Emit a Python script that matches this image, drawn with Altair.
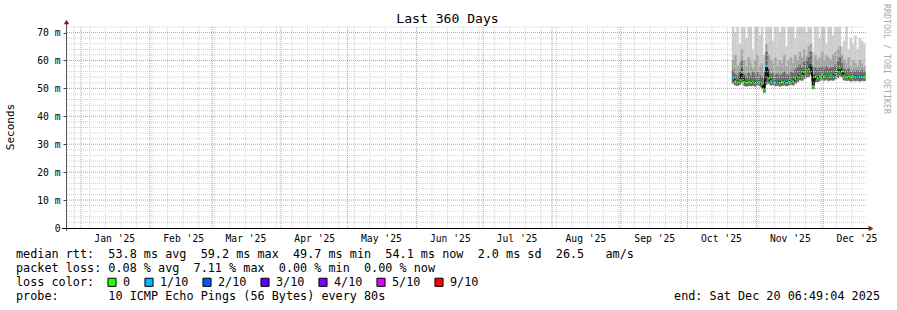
import altair as alt
import pandas as pd

# ---------------- data ----------------
WINDOW_START = "2024-12-25 06:49:04"
WINDOW_END = "2025-12-20 06:49:04"
FIRST_DAY = "2025-10-21"

median_ms = [53.5, 52.6, 52.4, 53.0, 55.8, 52.4, 52.0, 52.3, 52.1, 52.5,
             52.0, 52.8, 52.2, 51.5, 49.5, 58.0, 53.5, 52.6, 52.8, 52.2,
             52.5, 52.0, 52.3, 52.6, 52.1, 52.4, 52.9, 52.6, 53.4, 54.2,
             55.0, 54.6, 55.8, 56.6, 57.0, 58.9, 50.8, 54.2, 53.6, 54.4,
             54.9, 54.5, 54.8, 54.3, 54.7, 54.5, 55.2, 56.0, 57.2, 56.1,
             54.6, 54.2, 54.4, 54.0, 54.3, 54.1, 54.3, 54.0, 54.2, 54.1]

loss_label = ["1/10", "0", "0", "0", "0", "0", "0", "0", "0", "0",
              "0", "1/10", "0", "0", "0", "1/10", "0", "0", "1/10", "0",
              "1/10", "0", "0", "1/10", "0", "0", "1/10", "0", "0", "0",
              "0", "0", "0", "0", "0", "1/10", "0", "0", "0", "0",
              "0", "0", "1/10", "0", "0", "1/10", "0", "0", "0", "0",
              "0", "0", "0", "0", "0", "1/10", "1/10", "0", "1/10", "0"]

smoke_lo = [51.8, 51.2, 51.0, 51.4, 52.0, 51.0, 50.8, 51.0, 50.9, 51.1,
            50.8, 51.2, 50.9, 50.3, 48.6, 51.5, 51.8, 51.2, 51.3, 50.9,
            51.1, 50.8, 51.0, 51.2, 50.9, 51.1, 51.4, 51.2, 51.8, 52.4,
            53.0, 52.9, 53.5, 54.0, 54.2, 55.0, 49.8, 52.6, 52.3, 52.8,
            53.1, 52.9, 53.1, 52.8, 53.0, 52.9, 53.4, 53.8, 54.6, 54.0,
            53.0, 52.8, 52.9, 52.6, 52.8, 52.7, 52.8, 52.6, 52.8, 52.7]

smoke_dark = [56.5, 55.0, 54.5, 56.0, 60.0, 55.0, 54.2, 55.5, 54.5, 55.8,
              54.6, 56.0, 54.8, 54.0, 52.5, 63.0, 57.0, 55.0, 55.5, 54.8,
              55.2, 54.5, 55.0, 56.0, 54.6, 55.0, 56.2, 55.5, 56.8, 57.5,
              58.5, 57.5, 59.5, 60.0, 61.0, 63.0, 55.0, 57.5, 56.5, 57.5,
              58.0, 57.0, 58.0, 57.0, 57.5, 57.5, 58.5, 59.5, 61.0, 59.0,
              57.0, 56.5, 57.0, 56.0, 56.5, 56.0, 56.5, 56.0, 56.5, 56.0]

smoke_mid = [60, 62, 58, 59, 64, 60, 58, 61, 59, 57,
             60, 62, 58, 59, 56, 66, 62, 60, 59, 61,
             58, 60, 59, 62, 58, 60, 61, 59, 62, 60,
             63, 61, 64, 62, 65, 66, 58, 62, 60, 61,
             63, 60, 62, 61, 60, 62, 63, 64, 65, 62,
             60, 59, 61, 58, 60, 59, 58, 60, 59, 58]

smoke_hi = [72, 70, 72, 66, 72, 72, 68, 72, 72, 64,
            72, 72, 69, 72, 62, 72, 72, 72, 67, 72,
            72, 70, 72, 72, 65, 72, 72, 72, 68, 72,
            72, 72, 72, 70, 72, 72, 63, 72, 72, 68,
            72, 72, 66, 72, 72, 69, 72, 72, 72, 65,
            67, 72, 64, 68, 66, 69, 64, 68, 67, 66]

loss_levels = ["0", "1/10", "2/10", "3/10", "4/10", "5/10", "9/10"]
loss_colors = ["#26ff00", "#00b8ff", "#0059ff", "#5e00ff", "#7e00ff", "#dd00ff", "#ff0000"]

y_ticks = [0, 10, 20, 30, 40, 50, 60, 70]
y_major_grid = [10, 20, 30, 40, 50, 60, 70]
y_minor_grid = [v for v in range(2, 73, 2) if v % 10]

median_line_text = "median rtt:  53.8 ms avg  59.2 ms max  49.7 ms min  54.1 ms now  2.0 ms sd  26.5   am/s"
loss_line_text = "packet loss: 0.08 % avg  7.11 % max  0.00 % min  0.00 % now"
color_line_text = "loss color:"
probe_line_text = "probe:       10 ICMP Echo Pings (56 Bytes) every 80s"
end_text = "end: Sat Dec 20 06:49:04 2025"

# ---------------- helpers / layout ----------------
L, T, W, H = 66, 27, 800, 201
MONO = "DejaVu Sans Mono"
NBSP = "\u00a0"


def ms(ts):
    return int(pd.Timestamp(ts, tz="UTC").value // 10**6)


def px(x):
    return x - L


def py(y):
    return y - T


days = pd.date_range(FIRST_DAY, periods=len(median_ms), freq="D", tz="UTC")
df = pd.DataFrame({
    "t0": [int(d.value // 10**6) for d in days],
    "t1": [int((d + pd.Timedelta(days=1)).value // 10**6) for d in days],
    "tm": [int((d + pd.Timedelta(hours=12)).value // 10**6) for d in days],
    "med": median_ms, "loss": loss_label,
    "lo": smoke_lo, "dark": smoke_dark, "mid": smoke_mid, "hi": smoke_hi,
})

month_starts = pd.DataFrame({"t": [ms(f"2025-{m:02d}-01") for m in range(1, 13)]})
week_starts = pd.DataFrame({"t": [int(d.value // 10**6) for d in
                                  pd.date_range("2024-12-29", "2025-12-19", freq="7D", tz="UTC")]})
mid_months = [ms(f"2025-{m:02d}-16") for m in range(1, 13)]

xs = alt.Scale(type="utc", domain=[ms(WINDOW_START), ms(WINDOW_END)], nice=False)
ys = alt.Scale(domain=[0, 72], nice=False, zero=False)

xaxis = alt.Axis(values=mid_months, labelExpr="utcFormat(datum.value, \"%b '%y\")",
                 grid=False, ticks=False, domain=False, labelFont=MONO, labelFontSize=9.7,
                 labelColor="#000", labelPadding=5, labelFlush=False, labelOverlap=False, title=None)
yaxis = alt.Axis(values=y_ticks, labelExpr="datum.value == 0 ? '0' : datum.value + ' m'",
                 grid=False, ticks=True, tickSize=3, tickColor="#444", domain=False,
                 labelFont=MONO, labelFontSize=9.7, labelColor="#000", labelPadding=3, title=None)


def X(f):
    return alt.X(f, type="temporal", scale=xs, axis=xaxis, title=None)


def Y(f):
    return alt.Y(f, type="quantitative", scale=ys, axis=yaxis, title=None)


base = alt.Chart(df)

smoke_light = base.mark_rect(color="#cdcdcd", stroke="#cdcdcd", strokeWidth=0.3).encode(
    x=X("t0"), x2="t1", y=Y("lo"), y2="hi")
smoke_medium = base.mark_rect(color="#a4a4a4", stroke="#a4a4a4", strokeWidth=0.3).encode(
    x=X("t0"), x2="t1", y=Y("lo"), y2="mid")
smoke_darker = base.mark_rect(color="#6a6a6a", stroke="#6a6a6a", strokeWidth=0.3).encode(
    x=X("t0"), x2="t1", y=Y("lo"), y2="dark")
median_line = base.mark_line(color="#111111", strokeWidth=2.2).encode(x=X("tm"), y=Y("med"))
median_pts = base.mark_square(size=4, opacity=1).encode(
    x=X("tm"), y=Y("med"),
    color=alt.Color("loss:N", scale=alt.Scale(domain=loss_levels, range=loss_colors), legend=None))

grid_minor_h = alt.Chart(pd.DataFrame({"v": y_minor_grid})).mark_rule(
    color="#d0d0d0", strokeWidth=1, strokeDash=[1, 1]).encode(y=Y("v"))
grid_major_h = alt.Chart(pd.DataFrame({"v": y_major_grid})).mark_rule(
    color="#ff8080", strokeWidth=1, strokeDash=[1, 1]).encode(y=Y("v"))
grid_minor_v = alt.Chart(week_starts).mark_rule(
    color="#d0d0d0", strokeWidth=1, strokeDash=[1, 1]).encode(x=X("t"))
grid_major_v = alt.Chart(month_starts).mark_rule(
    color="#ff8080", strokeWidth=1, strokeDash=[1, 1]).encode(x=X("t"))

one = alt.Data(values=[{}])
y_axis_line = alt.Chart(one).mark_rule(color="#555555", strokeWidth=1).encode(
    x=alt.value(0.5), y=alt.value(-5), y2=alt.value(H + 3))
x_axis_line = alt.Chart(one).mark_rule(color="#000000", strokeWidth=1).encode(
    x=alt.value(-4), x2=alt.value(W + 4), y=alt.value(H + 0.5))
arrow_up = alt.Chart(one).mark_point(shape="triangle-up", filled=True, size=30,
                                     color="#8b1a1a", opacity=1).encode(
    x=alt.value(0.5), y=alt.value(-5))
arrow_right = alt.Chart(one).mark_point(shape="triangle-right", filled=True, size=30,
                                        color="#8b1a1a", opacity=1).encode(
    x=alt.value(W + 5), y=alt.value(H + 0.5))


def txt(s, x, y, size=11.8, align="left", angle=0, color="#000000", font=MONO):
    return alt.Chart(one).mark_text(text=s.replace(" ", NBSP), font=font, fontSize=size,
                                    align=align, baseline="middle", angle=angle,
                                    color=color).encode(
        x=alt.value(px(x)), y=alt.value(py(y)))


texts = [
    txt("Last 360 Days", 447.5, 19, size=13.1, align="center"),
    txt("Seconds", 11, 127, size=11, align="center", angle=270),
    txt("RRDTOOL / TOBI OETIKER", 886, 4, size=8.3, align="left", angle=90, color="#aaaaaa"),
    txt(median_line_text, 16, 254.3),
    txt(loss_line_text, 16, 268.3),
    txt(color_line_text, 16, 282.3),
    txt(probe_line_text, 16, 296.3),
    txt(end_text, 880, 296.3, align="right"),
]

legend_label_x = [123, 160, 218, 276, 334, 392, 450]
for lab, col, x in zip(loss_levels, loss_colors, legend_label_x):
    texts.append(txt(lab, x, 282.3))
    texts.append(alt.Chart(one).mark_point(shape="square", filled=True, size=66, fill=col,
                                           stroke="#000000", strokeWidth=1, opacity=1).encode(
        x=alt.value(px(x - 11)), y=alt.value(py(282.3))))

chart = alt.layer(
    smoke_light, smoke_medium, smoke_darker, median_line, median_pts,
    grid_minor_h, grid_minor_v, grid_major_h, grid_major_v,
    y_axis_line, x_axis_line, arrow_up, arrow_right, *texts
).properties(
    width=W, height=H,
    padding={"left": L, "top": T, "right": 897 - L - W, "bottom": 310 - T - H},
    autosize=alt.AutoSizeParams(type="none"),
    background="white",
).configure_view(stroke=None)

chart.save("out.html", embed_options={"renderer": "svg", "actions": False})
